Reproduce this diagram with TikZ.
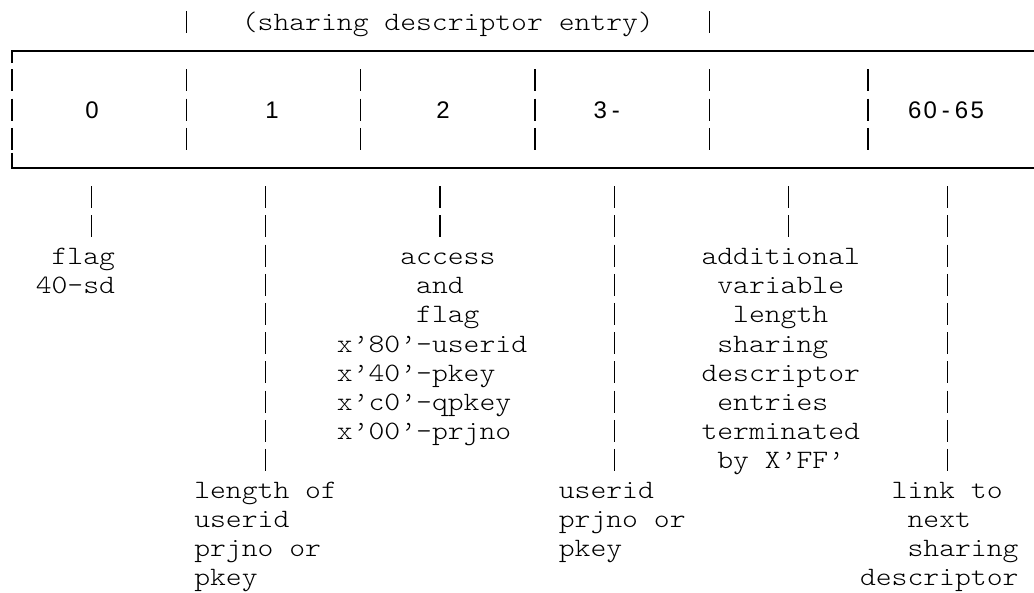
\documentclass[tikz,border=0pt]{standalone}
\usepackage{fontspec}
\newfontfamily\mono[FakeStretch=1.139]{lmmonolt10-regular.otf}
\newfontfamily\digits{Liberation Sans}

% character grid: column pitch and line pitch
\newcommand\cl[1]{4.1+(#1)*15.85}   % left edge of column
\newcommand\cc[1]{12+(#1)*15.85}    % centre of column
\newcommand\ry[1]{22+(#1)*29.2}     % centre of row
\newcommand\rb[1]{31+(#1)*29.2}     % baseline of row
\newcommand\dg[1]{\makebox[15.6pt][c]{#1}}

\tikzset{
  txt/.style={anchor=base west, inner sep=0pt, outer sep=0pt,
              font=\mono\fontsize{26.5}{30}\selectfont},
  num/.style={anchor=base, inner sep=0pt, outer sep=0pt,
              font=\digits\fontsize{24}{29}\selectfont},
  bar/.style={line width=1.2pt, dash pattern=on 22pt off 7.2pt},
  frame/.style={line width=1.6pt},
}

\begin{document}
\begin{tikzpicture}[x=1pt,y=-1pt]
\useasboundingbox (0,0) rectangle (1034,593);

% heading over the entry
\node[txt] (head) at ({\cl{15}},{\rb{0}}) {(sharing descriptor entry)};
\foreach \c in {11,44}
  \draw[bar] ({\cc{\c}},{\ry{0}-11}) -- ({\cc{\c}},{\ry{0}+11});

% the entry: open frame on the left, field separators inside
\coordinate (tl) at ({\cc{0}},{\ry{1}});
\coordinate (bl) at ({\cc{0}},{\ry{5}});
\coordinate (tr) at (1034,{\ry{1}});
\coordinate (br) at (1034,{\ry{5}});
\draw[frame] ([yshift=-12pt]tl) -- (tl) -- (tr);
\draw[frame] ([yshift=15pt]bl) -- (bl) -- (br);
\foreach \c in {0,11,22,33,44,54}
  \draw[bar] ({\cc{\c}},{\ry{2}-11}) -- ({\cc{\c}},{\ry{4}+11});

% field offsets
\node[num] (f0) at (92,{\rb{3}}) {\dg{0}};
\node[num] (f1) at (272,{\rb{3}}) {\dg{1}};
\node[num] (f2) at (443,{\rb{3}}) {\dg{2}};
\node[num] (f3) at (608,{\rb{3}}) {\dg{3}\dg{-}};
\node[num] (f6) at (946,{\rb{3}}) {\dg{6}\dg{0}\dg{-}\dg{6}\dg{5}};

% descriptions below the fields
\node[txt] (a1) at ({\cl{3}},{\rb{8}}) {flag};
\node[txt] (a2) at ({\cl{2}},{\rb{9}}) {40-sd};

\node[txt] (b1) at ({\cl{12}},{\rb{16}}) {length of};
\node[txt] (b2) at ({\cl{12}},{\rb{17}}) {userid};
\node[txt] (b3) at ({\cl{12}},{\rb{18}}) {prjno or};
\node[txt] (b4) at ({\cl{12}},{\rb{19}}) {pkey};

\node[txt] (c1) at ({\cl{25}},{\rb{8}}) {access};
\node[txt] (c2) at ({\cl{26}},{\rb{9}}) {and};
\node[txt] (c3) at ({\cl{26}},{\rb{10}}) {flag};
\node[txt] (c4) at ({\cl{21}},{\rb{11}}) {x’80’-userid};
\node[txt] (c5) at ({\cl{21}},{\rb{12}}) {x’40’-pkey};
\node[txt] (c6) at ({\cl{21}},{\rb{13}}) {x’c0’-qpkey};
\node[txt] (c7) at ({\cl{21}},{\rb{14}}) {x’00’-prjno};

\node[txt] (d1) at ({\cl{35}},{\rb{16}}) {userid};
\node[txt] (d2) at ({\cl{35}},{\rb{17}}) {prjno or};
\node[txt] (d3) at ({\cl{35}},{\rb{18}}) {pkey};

\node[txt] (e1) at ({\cl{44}},{\rb{8}}) {additional};
\node[txt] (e2) at ({\cl{45}},{\rb{9}}) {variable};
\node[txt] (e3) at ({\cl{46}},{\rb{10}}) {length};
\node[txt] (e4) at ({\cl{45}},{\rb{11}}) {sharing};
\node[txt] (e5) at ({\cl{44}},{\rb{12}}) {descriptor};
\node[txt] (e6) at ({\cl{45}},{\rb{13}}) {entries};
\node[txt] (e7) at ({\cl{44}},{\rb{14}}) {terminated};
\node[txt] (e8) at ({\cl{45}},{\rb{15}}) {by X’FF’};

\node[txt] (g1) at ({\cl{56}},{\rb{16}}) {link to};
\node[txt] (g2) at ({\cl{57}},{\rb{17}}) {next};
\node[txt] (g3) at ({\cl{57}},{\rb{18}}) {sharing};
\node[txt] (g4) at ({\cl{54}},{\rb{19}}) {descriptor};

% leaders from the fields down to their descriptions
\foreach \c/\n in {5/a1,27/c1,49/e1}{
  \coordinate (s\n) at ({\cc{\c}},{\ry{6}-11});
  \draw[bar] (s\n) -- ++(0,51.2);
}
\foreach \c/\n in {16/b1,38/d1,59/g1}{
  \coordinate (s\n) at ({\cc{\c}},{\ry{6}-11});
  \draw[bar] (s\n) -- ++(0,284.8);
}
\end{tikzpicture}
\end{document}
